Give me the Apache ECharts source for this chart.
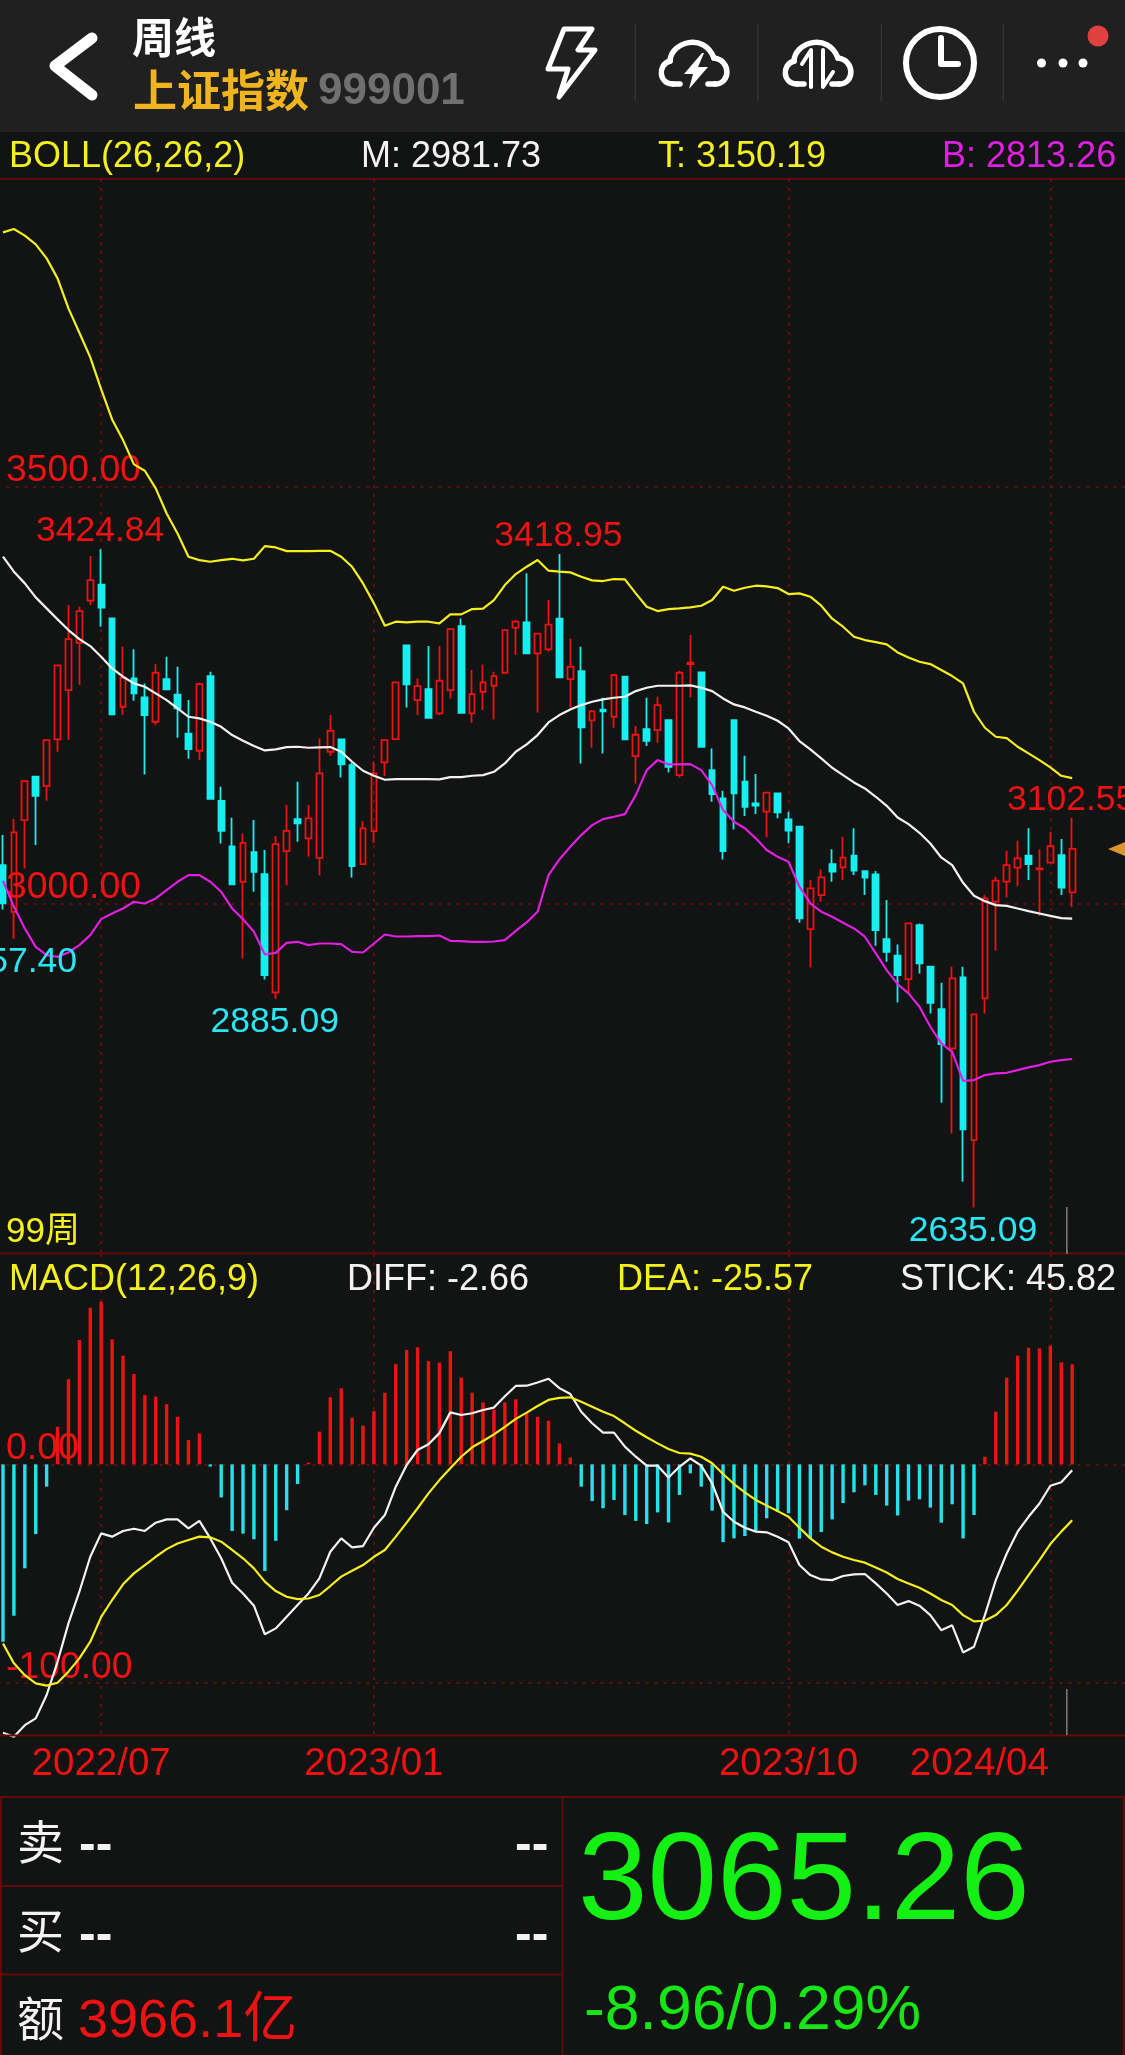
<!DOCTYPE html>
<html><head><meta charset="utf-8">
<style>html,body{margin:0;padding:0;background:#121313}#c{width:1125px;height:2055px}</style>
<script src="https://cdn.jsdelivr.net/npm/echarts@6/dist/echarts.min.js"></script>
</head><body><div id="c"></div>
<script>
const opens=[3045.8,2989.8,3099.8,3151.8,3140.6,3196.6,3255.8,3312.6,3363,3382.2,3341.8,3235.8,3269.8,3247,3217.8,3269,3250.2,3203.4,3183,3272.6,3123,3068.2,3025.8,3061.4,3035,2893,3062.6,3101,3077.8,3054.6,3181.8,3196.6,3165.8,3047,3086.6,3169,3197,3309.4,3243.8,3257,3227.8,3255.8,3332.6,3227.8,3253.8,3261,3276.6,3330.6,3337,3299.8,3304.6,3341.4,3269,3278.6,3219.4,3232.2,3223.8,3271.8,3176.6,3209,3207.8,3219.8,3153.8,3287,3277,3159.8,3125.8,3219.8,3145.8,3119.9,3109.9,3131.9,3100.7,3091.9,2969.1,3009.9,3047.1,3043.1,3057.1,3038.7,3034.7,2957.1,2937.1,2909.1,2973.9,2923.9,2873.1,2825.9,2911.1,2715.9,2885.9,3001.9,3025.9,3042.7,3057.1,3040.7,3048.7,3057.9,3013.1];
const closes=[2999.8,3085,3146.6,3129,3195.8,3285.4,3317,3350.6,3387.8,3354.6,3226.6,3270.6,3251.8,3225.8,3276.6,3256.6,3233.8,3185,3263,3125.4,3087,3022.6,3072.6,3037.8,2913.8,3071,3087,3095.8,3101.8,3155.8,3207,3166.6,3044.6,3089.8,3155.8,3195.8,3265,3262.6,3260.6,3222.6,3267,3329,3228.6,3251,3265,3272.6,3327.8,3337.8,3299.8,3323.4,3334.2,3271,3283.8,3211,3230.2,3230.2,3273.8,3196.6,3202.2,3195,3237.8,3163.8,3276.6,3288.6,3187.8,3131,3062.6,3131.8,3115.8,3117.1,3132.7,3109.1,3087.1,2981.9,3017.9,3031.1,3037.9,3054.7,3039.1,3030.7,2967.9,2941.9,2913.9,2975.9,2927.9,2880.7,2831.1,2909.9,2728.7,2866.7,3005.9,3027.1,3045.9,3053.9,3047.1,3041.9,3068.7,3018.7,3065.26];
const lows=[2992.6,2957.4,3041.8,3069.8,3123,3181.8,3195.8,3261.8,3357.8,3331.8,3226.6,3225.8,3243,3154.6,3213.8,3256.6,3198.6,3173.4,3171.8,3125.4,3071.8,3022.6,2933.8,3013.8,2908.6,2885.09,3021.8,3073.8,3055.8,3033.8,3176.6,3151,3031,3047,3072.6,3152.6,3197,3235,3225.8,3222.6,3225.8,3245.8,3228.6,3216.6,3231.8,3220.6,3276.6,3297.8,3299.8,3229,3301.8,3271,3234.6,3167.8,3186.6,3179.8,3210.6,3196.6,3143.8,3188.6,3192.6,3157,3151,3247,3187.8,3121.8,3052.6,3088.6,3104.6,3107.1,3079.1,3101.9,3071.9,2976.7,2923.1,3001.9,3025.9,3027.9,3033.9,3009.9,2949.1,2929.9,2881.1,2891.9,2915.9,2867.9,2760.7,2723.9,2665.9,2635.09,2867.9,2943.1,3007.1,3020.7,3027.9,2984.7,3047.9,3009.9,2995.9];
const highs=[3081.8,3101,3146.6,3152.6,3196.6,3285.4,3357.8,3355.8,3416.6,3424.84,3341.8,3307.8,3304.9,3263.8,3287,3295.8,3283.8,3243.8,3265,3277.8,3139.8,3102.6,3083.8,3099.8,3063.8,3080.6,3117.8,3145.8,3117.8,3197.8,3225.8,3196.6,3168.6,3098.6,3169.8,3195.8,3265.8,3309.4,3269.8,3308.6,3308.6,3329.8,3341.8,3279.8,3286.6,3277.8,3327.8,3339.8,3395.8,3323.4,3363.8,3418.95,3317.8,3307.8,3231.8,3246.6,3275,3271.8,3212.6,3246.6,3247.8,3219.8,3279,3321.8,3277,3185.8,3135,3219.8,3177,3155.1,3132.7,3131.9,3109.9,3091.9,3027.9,3040.7,3064.7,3079.9,3089.9,3038.7,3038.7,3003.9,2950.7,2975.9,2975.9,2923.9,2904.7,2923.9,2923.9,2866.7,3009.9,3031.9,3063.1,3075.1,3089.9,3064.7,3085.9,3077.1,3102.55];
const bollTop=[3804.9,3808.9,3800.9,3790.5,3773.7,3749.7,3713.7,3684.5,3654.9,3616.5,3580.5,3555.7,3526.5,3518.9,3497.7,3467.7,3443.7,3415.7,3411.7,3409.7,3411.7,3413.3,3411.3,3413.3,3428.5,3426.9,3422.5,3422.5,3422.5,3422.9,3422.9,3415.7,3403.7,3383.7,3359.8,3333,3337.8,3337,3337.8,3337.8,3335.8,3346.6,3346.6,3353,3353.4,3363.8,3381.8,3395,3403.8,3411.8,3399,3397.8,3397,3391.8,3387.4,3386.6,3389,3388.6,3371.8,3355.8,3350.6,3353,3353.8,3355,3357,3363.8,3379.8,3375,3378.6,3381,3380.2,3378.2,3371,3371.8,3367.8,3357,3341.4,3331.8,3319.8,3315.8,3313.4,3310.6,3301,3295,3289.8,3287,3279.8,3272.6,3263.8,3229.8,3210.6,3199.8,3198.2,3187.8,3179.8,3171.8,3163,3153,3150.19];
const bollMid=[3415.8,3397.8,3383.8,3367,3353.8,3340.6,3327.8,3317,3308.6,3295.8,3281.8,3271.8,3263.8,3259.8,3251.8,3243.8,3233.8,3223.8,3221.8,3217.8,3211.8,3201.8,3195,3188.6,3183.4,3184.6,3187.4,3187.8,3186.6,3187,3187.4,3181.8,3169.8,3159,3153,3148.2,3149,3149,3149,3149,3148.6,3151.4,3151.4,3153,3153.8,3157.8,3167.8,3181.8,3190.6,3201.8,3217,3225.8,3232.6,3237.8,3241.8,3244.6,3246.6,3247.8,3254.6,3258.6,3261,3261,3261,3261.4,3258.6,3254.6,3245.8,3238.6,3235,3229.8,3225,3219,3209.8,3194.6,3184.6,3173.8,3162.6,3153.8,3145,3137.8,3127.8,3117,3103,3095,3084.6,3071.8,3055,3045.8,3024.6,3009,3002.6,2997.8,2997,2993.8,2990.6,2987.8,2985,2982.2,2981.73];
const bollLow=[3027,2995.8,2969.8,2947.8,2937.8,2935.8,2941,2949.8,2961.8,2981,2987.8,2993.8,3001.8,2999.8,3005.8,3015.8,3025.8,3033.8,3033.8,3025.8,3013.8,2993.8,2981,2965.8,2938.6,2940.6,2952.6,2953.8,2949.8,2951.8,2951.8,2951,2941.8,2941,2951.8,2962.6,2960.2,2960.2,2960.6,2960.6,2961.4,2955,2954.6,2953.8,2953.8,2954.2,2955.8,2967,2977,2989.8,3033.8,3052.6,3067.8,3081.8,3093.8,3101,3103.8,3107,3129.8,3159.8,3171.8,3166.6,3166.6,3167,3159.8,3141.8,3111.8,3097.8,3090,3077.9,3063.9,3055.9,3049.9,3019.9,2999.9,2989.9,2983.9,2976.7,2969.9,2959.9,2939.9,2919.9,2903.1,2891.9,2875.9,2851.9,2831.9,2821.9,2787.1,2787.9,2793.9,2795.9,2796.7,2799.9,2803.1,2805.9,2809.9,2811.9,2813.26];
const stick=[-81.2,-69.3,-47.6,-31.9,-10.2,17.2,39,56.9,71.7,74.5,57.2,49.8,41.4,31.7,31,27.5,21.8,11.1,14.2,-1,-15.1,-30.5,-31.7,-34.3,-48.8,-35,-21,-9,0.8,15,30.7,34.8,21.4,17.7,24.4,32.8,45.9,52.4,53.6,47.3,46.6,51.8,39.7,32.8,28.4,25,28.4,29.8,23.5,21.8,20,9.6,3.2,-10.2,-16.8,-20.1,-16.3,-23.2,-25.9,-27.3,-22,-26.6,-14,-4.1,-10.2,-21.2,-35.6,-33.9,-32.8,-30.5,-24.7,-21.7,-22.4,-34,-33.9,-31,-25.2,-17.7,-12.8,-9.6,-14,-18.9,-23.4,-16.6,-16,-19.8,-26.7,-18.3,-33.9,-23.2,3.5,24.1,39.7,49.8,53.4,53.1,54.3,46.7,45.82];
const diff=[-122.9,-124.7,-119.4,-116.3,-105.6,-90.4,-72.8,-58.3,-42.3,-31.6,-33.1,-30.5,-29.5,-30.5,-26.7,-25.2,-25.2,-29.3,-25.9,-33.9,-43,-54.2,-59.1,-64.7,-77.8,-75.1,-69.8,-64.4,-59.1,-52.2,-40,-33.9,-38,-37.4,-29,-23.2,-10.2,-0.3,6.6,9.2,14.3,23.8,22.6,23.4,24.9,26,31.2,35.9,36,37.5,39.2,34.9,32.2,24.1,18.8,14.5,14.5,8.1,3.5,-0.6,-0.6,-6,-1.1,2.7,-0.6,-8.7,-21.7,-26.3,-29,-30.8,-31.1,-33.1,-35.7,-46.1,-50.7,-52.7,-53,-51.1,-50.4,-50.2,-54.5,-59.1,-64.4,-62.6,-64.7,-69,-75.9,-73.7,-86.1,-83.5,-69,-53,-40.8,-30.8,-24,-17.9,-9.8,-8.2,-2.66];
const dea=[-82,-91.1,-96.5,-100.3,-101.3,-100,-94.9,-88.8,-81.2,-69.8,-62.1,-54.9,-49.9,-46.1,-42.3,-38.8,-36.2,-34.6,-33.1,-33.4,-35.4,-39.2,-43,-47.6,-53.7,-58,-60.6,-61.7,-61.4,-59.8,-55.7,-51.4,-48.7,-46.1,-42.3,-39.2,-33.1,-26.7,-20.1,-13.3,-7.2,-1.8,3.5,7.8,10.7,13.7,17.2,20.8,23.7,26.7,29.5,30.4,30.7,28.7,26.4,24.1,22.1,18.8,15.4,12.4,9.6,7,5.2,4.9,3.5,0.5,-4.4,-9,-12.8,-16.3,-18.9,-21.4,-24,-29,-33.9,-37.7,-40.3,-42.3,-43.8,-45,-47.2,-49.5,-52.5,-54.5,-56.5,-59.1,-62.1,-64.4,-69,-71.9,-71.6,-69,-64.4,-57.8,-50.7,-43.8,-36.5,-30.8,-25.57];
const weekCount=104;
const tickWeeks=[9,34,72,96];
const tickLabels=['2022/07','2023/01','2023/10','2024/04'];
const priceTicks=[3000,3500];
const macdTicks=[-100,0];
const highMarks=[[9,3424.84],[51,3418.95],[98,3102.55]];
const lowMarks=[[1,2957.40],[25,2885.09],[89,2635.09]];

const RED='#ee1212',CYAN='#17eef0',YEL='#f4f01e',WHT='#f2f2f2',MAG='#e01fe0',GRID='#5e0f0f',BORD='#640a0a',BG='#121313';
const categories=Array.from({length:weekCount},(_,i)=>{const k=tickWeeks.indexOf(i);return k>=0?tickLabels[k]:'w'+i;});
const isTick=(i)=>tickWeeks.indexOf(i)>=0;
const SANS='"Liberation Sans",Arimo,Helvetica,Arial,sans-serif';
const CJK='"Noto Sans CJK SC",sans-serif';
const vline={show:true,alignWithLabel:true,interval:(i)=>isTick(i),lineStyle:{color:GRID,width:2,type:[3,6]}};
const hline={show:true,lineStyle:{color:GRID,width:2,type:[3,6]}};
function yAxisOf(idx,min,max,ticks){return {type:'value',gridIndex:idx,min,max,scale:true,
  axisLine:{show:false},axisTick:{show:false,customValues:ticks},splitLine:hline,
  axisLabel:{show:true,inside:true,customValues:ticks,margin:8.5,color:RED,fontFamily:SANS,fontSize:37.3,verticalAlign:'bottom',lineHeight:31,align:'left',formatter:(v)=>Number(v).toFixed(2)}};}
function lineOf(data,color,x,y,width){return {type:'line',data,xAxisIndex:x,yAxisIndex:y,showSymbol:false,symbol:'none',smooth:false,clip:false,lineStyle:{color,width:width||2.2},itemStyle:{color},silent:true,animation:false,z:4};}
function t(text,x,y,fill,size,opt){opt=opt||{};return {type:'text',z:100,silent:true,style:{text,x,y,fill,font:(opt.weight?opt.weight+' ':'')+size+'px '+(opt.family||SANS),align:opt.align||'left',verticalAlign:'middle',textAlign:opt.align||'left',textVerticalAlign:'middle'}};}
function bar(x,y,w,h,fill){return {type:'rect',z:90,silent:true,shape:{x,y,width:w,height:h},style:{fill}};}
function poly(points,w,closed){return {type:closed?'polygon':'polyline',z:100,silent:true,shape:{points},style:{stroke:'#fff',lineWidth:w,fill:'none',lineCap:'round',lineJoin:'round'}};}
function solid(points,fill){return {type:'polygon',z:100,silent:true,shape:{points},style:{fill:fill||'#fff'}};}
function curve(x1,y1,c1x,c1y,c2x,c2y,x2,y2,w){return {type:'bezierCurve',z:100,silent:true,shape:{x1,y1,cpx1:c1x,cpy1:c1y,cpx2:c2x,cpy2:c2y,x2,y2},style:{stroke:'#fff',lineWidth:w,fill:'none',lineCap:'round'}};}
function dot(cx,cy,r,fill){return {type:'circle',z:100,silent:true,shape:{cx,cy,r},style:{fill}};}
function cloud(d){const w=5.5;return [
  poly([[680+d,84],[673+d,84]],w),
  curve(673+d,84,659+d,84,657+d,65,670+d,61,w),
  curve(670+d,61,671+d,42,704+d,32,714+d,58,w),
  curve(714+d,58,731+d,60,731+d,84,715+d,84,w),
  poly([[715+d,84],[708+d,84]],w)];}

const chart=echarts.init(document.getElementById('c'),null,{renderer:'canvas',width:1125,height:2055});
chart.setOption({
  animation:false,backgroundColor:BG,
  grid:[{left:-2.456,top:179,width:1134.64,height:1074,containLabel:false,outerBoundsMode:'none'},{left:-2.456,top:1254,width:1134.64,height:481,containLabel:false,outerBoundsMode:'none'}],
  xAxis:[
   {type:'category',gridIndex:0,data:categories,boundaryGap:true,axisLine:{show:false},axisTick:{show:false},axisLabel:{show:false},splitLine:vline},
   {type:'category',gridIndex:1,data:categories,boundaryGap:true,axisLine:{show:false},axisTick:{show:false},splitLine:vline,
    axisLabel:{show:true,interval:(i)=>isTick(i),color:RED,fontFamily:SANS,fontSize:38.5,margin:10,hideOverlap:false,
      formatter:(v)=>v==='2024/04'?'{r|'+v+'}':v,rich:{r:{color:RED,fontFamily:SANS,fontSize:38.5,padding:[0,142,0,0]}}}}
  ],
  yAxis:[yAxisOf(0,2580.5,3868.9,priceTicks),yAxisOf(1,-123.9,96.3,macdTicks)],
  series:[
   {type:'candlestick',xAxisIndex:0,yAxisIndex:0,barWidth:6.2,clip:false,z:3,silent:true,
    data:opens.map((o,i)=>[o,closes[i],lows[i],highs[i]]),
    itemStyle:{color:'transparent',color0:CYAN,borderColor:RED,borderColor0:CYAN,borderWidth:1.8},
    markPoint:{silent:true,symbol:'circle',symbolSize:0,
      data:highMarks.map(m=>({coord:m,value:m[1],label:{show:true,position:'inside',offset:[-1,-18],color:RED,fontFamily:SANS,fontSize:35.5,formatter:m[1].toFixed(2)}}))
       .concat(lowMarks.map(m=>({coord:m,value:m[1],label:{show:true,position:'inside',offset:[-1,23.5],color:'#2ae6f2',fontFamily:SANS,fontSize:35.5,formatter:m[1].toFixed(2)}})))}},
   lineOf(bollTop,YEL,0,0),lineOf(bollMid,WHT,0,0),lineOf(bollLow,MAG,0,0),
   {type:'bar',xAxisIndex:1,yAxisIndex:1,data:stick,barWidth:3.4,silent:true,z:3,itemStyle:{color:(p)=>p.value>=0?RED:'#1fe4ee'}},
   lineOf(diff,WHT,1,1),lineOf(dea,YEL,1,1)
  ],
  graphic:{elements:[
   bar(0,0,1125,132,'#202020'),
   bar(0,178,1125,2,BORD),bar(0,1252.5,1125,2,BORD),bar(0,1734.5,1125,2,BORD),bar(0,1796,1125,2,BORD),
   bar(0,1885,562,2,BORD),bar(0,1973.5,562,2,BORD),bar(561.5,1797,2,258,BORD),bar(0,1797,2,258,BORD),bar(1122.5,1797,2,258,BORD),
   bar(1066,1207,1.6,46,'#777'),bar(1066,1689,1.6,46,'#777'),bar(1066,1250,1.6,4,'#777'),
   bar(634.5,24,1.5,77,'#333'),bar(757,24,1.5,77,'#333'),bar(880.5,24,1.5,77,'#333'),bar(1002.5,24,1.5,77,'#333'),
   poly([[92,38],[55,66],[92,95]],11),
   poly([[564,29],[592,29],[578,50],[595,50],[559,97],[568,69],[548,69]],5,true),
   ...cloud(0),
   solid([[702,53],[684,74],[693,74],[689,89],[708,67],[698,67],[704,53]]),
   ...cloud(124),
   poly([[811,87],[811,50],[802,64]],4),poly([[823,50],[823,87],[833,72]],4),
   {type:'circle',z:100,silent:true,shape:{cx:940,cy:63,r:34},style:{stroke:'#fff',lineWidth:6,fill:'none'}},
   poly([[941,38],[941,64],[958,64]],6),
   dot(1041.5,63,4.5,'#fff'),dot(1063,63,4.5,'#fff'),dot(1083,63,4.5,'#fff'),dot(1098,36,10.5,'#df4040'),
   t('周线',132,37,'#fff',42,{family:CJK,weight:'bold'}),
   t('上证指数',133,90,'#f0b41e',44,{family:CJK,weight:'bold'}),
   t('999001',318,92,'#707070',44,{weight:'bold'}),
   t('BOLL(26,26,2)',9,157,YEL,36),t('M: 2981.73',361,157,WHT,36),t('T: 3150.19',658,157,YEL,36),t('B: 2813.26',942,157,MAG,36),
   t('99周',6,1232,YEL,35,{family:SANS+','+CJK}),
   solid([[1108,849],[1125,842],[1125,856]],'#d9962a'),
   t('MACD(12,26,9)',9,1280,YEL,36),t('DIFF: -2.66',347,1280,WHT,36),t('DEA: -25.57',617,1280,YEL,36),t('STICK: 45.82',900,1280,WHT,36),
   t('卖',17,1841,'#f2f2f2',47,{family:CJK}),t('--',79,1846,'#f2f2f2',50,{weight:'bold'}),t('--',515,1846,'#f2f2f2',50,{weight:'bold'}),
   t('买',17,1930,'#f2f2f2',47,{family:CJK}),t('--',79,1936,'#f2f2f2',50,{weight:'bold'}),t('--',515,1936,'#f2f2f2',50,{weight:'bold'}),
   t('额',17,2018,'#f2f2f2',47,{family:CJK}),
   t('3966.1亿',78,2022,RED,54,{family:SANS+','+CJK}),
   t('3065.26',578,1885,'#14f014',125),
   t('-8.96/0.29%',584,2012,'#16e616',62.5)
  ]}
});
</script></body></html>
